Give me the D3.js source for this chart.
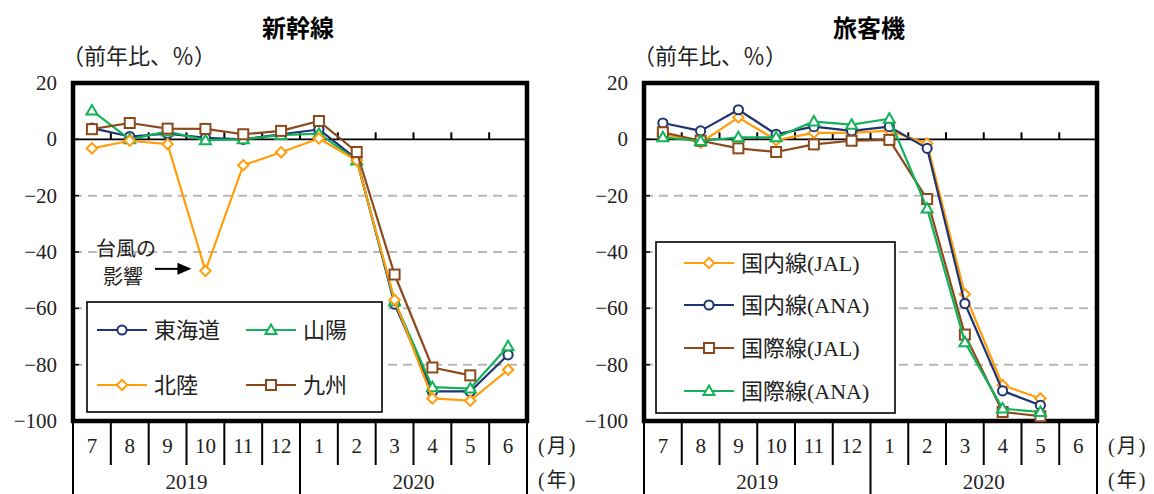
<!DOCTYPE html>
<html>
<head>
<meta charset="utf-8">
<script src="https://cdn.jsdelivr.net/npm/d3@7"></script>
<style>
  html, body { margin: 0; padding: 0; background: #fff; }
  svg { display: block; }
  text { font-family: "Liberation Serif", "Noto Sans CJK JP", serif; fill: #222; }
  .title { font-family: "Noto Sans CJK JP", sans-serif; font-weight: 700; fill: #000; }
</style>
</head>
<body>
<svg id="chart" width="1154" height="494"></svg>
<script>
// Month / year categories
const months = ["7", "8", "9", "10", "11", "12", "1", "2", "3", "4", "5", "6"];
const years = ["2019", "2020"];
const yTicks = [20, 0, -20, -40, -60, -80, -100];

// 新幹線 (前年比、%)
const tokaido  = [4.0, 1.0, 2.0, 0.5, 0.0, 1.8, 3.5, -7.0, -58.5, -89.5, -89.5, -76.5];
const sanyo    = [10.2, 0.0, 2.8, -0.3, 0.0, 1.5, 2.0, -7.5, -57.5, -88.0, -88.5, -73.5];
const hokuriku = [-3.2, -0.5, -1.7, -46.7, -9.2, -4.6, 0.3, -7.5, -57.0, -92.0, -92.8, -81.8];
const kyushu   = [3.6, 5.8, 3.8, 3.7, 1.8, 3.0, 6.5, -4.5, -48.0, -81.0, -83.8, null];

// 旅客機 (前年比、%)
const jalDomestic = [2.0, -1.2, 7.8, -0.3, 2.3, 2.3, 3.1, -1.5, -55.0, -87.3, -92.0, null];
const anaDomestic = [5.8, 3.0, 10.5, 1.8, 4.5, 3.0, 4.5, -3.2, -58.3, -89.3, -94.4, null];
const jalIntl     = [2.5, -0.5, -3.2, -4.5, -1.8, -0.5, -0.2, -21.2, -69.3, -96.8, -98.3, null];
const anaIntl     = [0.7, -0.6, 0.7, 0.7, 6.3, 5.2, 7.3, -24.6, -72.0, -95.6, -96.8, null];

const C = { navy: "#1f3470", green: "#12b15a", orange: "#ff9d0a", brown: "#8c4a1c" };

const svg = d3.select("#chart");

const y = d3.scaleLinear().domain([-100, 20]).range([421, 83]);
const fmt = d3.format("d");

function marker(g, shape, color, cx, cy) {
  const common = s => s.attr("fill", "#fff").attr("stroke", color).attr("stroke-width", 2);
  if (shape === "circle") {
    g.append("circle").attr("cx", cx).attr("cy", cy).attr("r", 4.6).call(common);
  } else if (shape === "square") {
    g.append("rect").attr("x", cx - 5).attr("y", cy - 5).attr("width", 10).attr("height", 10).call(common);
  } else if (shape === "diamond") {
    g.append("path").attr("d", `M${cx},${cy - 5.2}L${cx + 5.2},${cy}L${cx},${cy + 5.2}L${cx - 5.2},${cy}Z`).call(common);
  } else {
    g.append("path").attr("d", `M${cx},${cy - 5.5}L${cx + 5.5},${cy + 4}L${cx - 5.5},${cy + 4}Z`).call(common);
  }
}

function drawPanel(p) {
  const x = d3.scaleBand().domain(months).range([p.x0, p.x1]);
  const g = svg.append("g");

  // title and unit
  g.append("text").attr("class", "title").attr("x", p.titleX).attr("y", 37)
    .attr("text-anchor", "middle").style("font-size", "24px").text(p.title);
  g.append("text").attr("x", p.x0 - 11).attr("y", 64).style("font-size", "22px")
    .style("font-family", "'Noto Sans CJK JP', sans-serif").text("（前年比、％）");

  // dashed grid
  g.selectAll(".grid").data([-20, -40, -60, -80]).join("line")
    .attr("x1", p.x0).attr("x2", p.x1).attr("y1", d => y(d)).attr("y2", d => y(d))
    .attr("stroke", "#b8b8b8").attr("stroke-width", 2).attr("stroke-dasharray", "9,6");

  // zero line with category ticks
  g.append("line").attr("x1", p.x0).attr("x2", p.x1).attr("y1", y(0)).attr("y2", y(0))
    .attr("stroke", "#000").attr("stroke-width", 1.6);
  g.selectAll(".zt").data(months.slice(1)).join("line")
    .attr("x1", d => x(d)).attr("x2", d => x(d)).attr("y1", y(0)).attr("y2", y(0) - 7)
    .attr("stroke", "#000").attr("stroke-width", 2);

  // inner left ticks
  g.selectAll(".lt").data(yTicks.slice(1, -1)).join("line")
    .attr("x1", p.x0).attr("x2", p.x0 + 6).attr("y1", d => y(d)).attr("y2", d => y(d))
    .attr("stroke", "#000").attr("stroke-width", 1.5);

  // frame
  g.append("rect").attr("x", p.x0).attr("y", y(20)).attr("width", p.x1 - p.x0)
    .attr("height", y(-100) - y(20)).attr("fill", "none").attr("stroke", "#000").attr("stroke-width", 4.5);

  // y tick labels
  g.selectAll(".yl").data(yTicks).join("text")
    .attr("x", p.x0 - 16).attr("y", d => y(d) + 7).attr("text-anchor", "end")
    .style("font-size", "21px").text(d => fmt(d));

  // category axis below the frame
  const sep = d3.range(0, 13);
  const bw = x.bandwidth();
  g.selectAll(".sep").data(sep).join("line")
    .attr("x1", i => p.x0 + i * bw).attr("x2", i => p.x0 + i * bw)
    .attr("y1", y(-100)).attr("y2", i => (i % 6 === 0 ? 494 : 465))
    .attr("stroke", "#000").attr("stroke-width", 2);
  g.selectAll(".ml").data(months).join("text")
    .attr("x", d => x(d) + bw / 2).attr("y", 453).attr("text-anchor", "middle")
    .style("font-size", "21px").text(d => d);
  g.selectAll(".yr").data(years).join("text")
    .attr("x", (d, i) => p.x0 + (i * 6 + 3) * bw).attr("y", 489).attr("text-anchor", "middle")
    .style("font-size", "21px").text(d => d);
  g.append("text").attr("x", p.x1 + 11).attr("y", 453).style("font-size", "20px")
    .style("letter-spacing", "2px").text("(月)");
  g.append("text").attr("x", p.x1 + 11).attr("y", 487).style("font-size", "20px")
    .style("letter-spacing", "2px").text("(年)");

  // series
  const line = d3.line().defined(d => d != null)
    .x((d, i) => x(months[i]) + bw / 2).y(d => y(d));
  p.series.forEach(s => {
    const sg = g.append("g");
    sg.append("path").datum(s.values).attr("d", line).attr("fill", "none")
      .attr("stroke", s.color).attr("stroke-width", 2.2).attr("stroke-linejoin", "round");
    s.values.forEach((v, i) => {
      if (v != null) marker(sg, s.shape, s.color, x(months[i]) + bw / 2, y(v));
    });
  });

  // legend
  const lg = g.append("g");
  lg.append("rect").attr("x", p.legend.x).attr("y", p.legend.y).attr("width", p.legend.w)
    .attr("height", p.legend.h).attr("fill", "#fff").attr("stroke", "#000").attr("stroke-width", 1.6);
  p.series.forEach((s, i) => {
    const pos = p.legend.pos[i];
    lg.append("line").attr("x1", pos[0]).attr("x2", pos[0] + 50).attr("y1", pos[1]).attr("y2", pos[1])
      .attr("stroke", s.color).attr("stroke-width", 2.2);
    marker(lg, s.shape, s.color, pos[0] + 25, pos[1]);
    lg.append("text").attr("x", pos[0] + 57).attr("y", pos[1] + 8)
      .style("font-size", "22px").text(s.name);
  });
  return { x, g };
}

const left = drawPanel({
  x0: 73, x1: 527, title: "新幹線", titleX: 298,
  series: [
    { name: "東海道", values: tokaido, color: C.navy, shape: "circle" },
    { name: "山陽", values: sanyo, color: C.green, shape: "triangle" },
    { name: "北陸", values: hokuriku, color: C.orange, shape: "diamond" },
    { name: "九州", values: kyushu, color: C.brown, shape: "square" }
  ],
  legend: { x: 87, y: 302, w: 295, h: 110, pos: [[97, 330], [246, 330], [97, 385], [246, 385]] }
});

drawPanel({
  x0: 644, x1: 1097, title: "旅客機", titleX: 869,
  series: [
    { name: "国内線(JAL)", values: jalDomestic, color: C.orange, shape: "diamond" },
    { name: "国内線(ANA)", values: anaDomestic, color: C.navy, shape: "circle" },
    { name: "国際線(JAL)", values: jalIntl, color: C.brown, shape: "square" },
    { name: "国際線(ANA)", values: anaIntl, color: C.green, shape: "triangle" }
  ],
  legend: { x: 656, y: 242, w: 239, h: 171, pos: [[684, 263], [684, 305], [684, 348], [684, 391]] }
});

// typhoon annotation on the October dip
const ann = left.g.append("g");
ann.append("text").attr("x", 96).attr("y", 256).style("font-size", "20px").text("台風の");
ann.append("text").attr("x", 103).attr("y", 284).style("font-size", "20px").text("影響");
const ay = y(hokuriku[3]) - 2;
const ax = left.x("10") + left.x.bandwidth() / 2 - 14;
ann.append("line").attr("x1", 155).attr("x2", ax - 12).attr("y1", ay).attr("y2", ay)
  .attr("stroke", "#000").attr("stroke-width", 2);
ann.append("path").attr("d", `M${ax},${ay}L${ax - 14},${ay - 6}L${ax - 14},${ay + 6}Z`).attr("fill", "#000");
</script>
</body>
</html>
